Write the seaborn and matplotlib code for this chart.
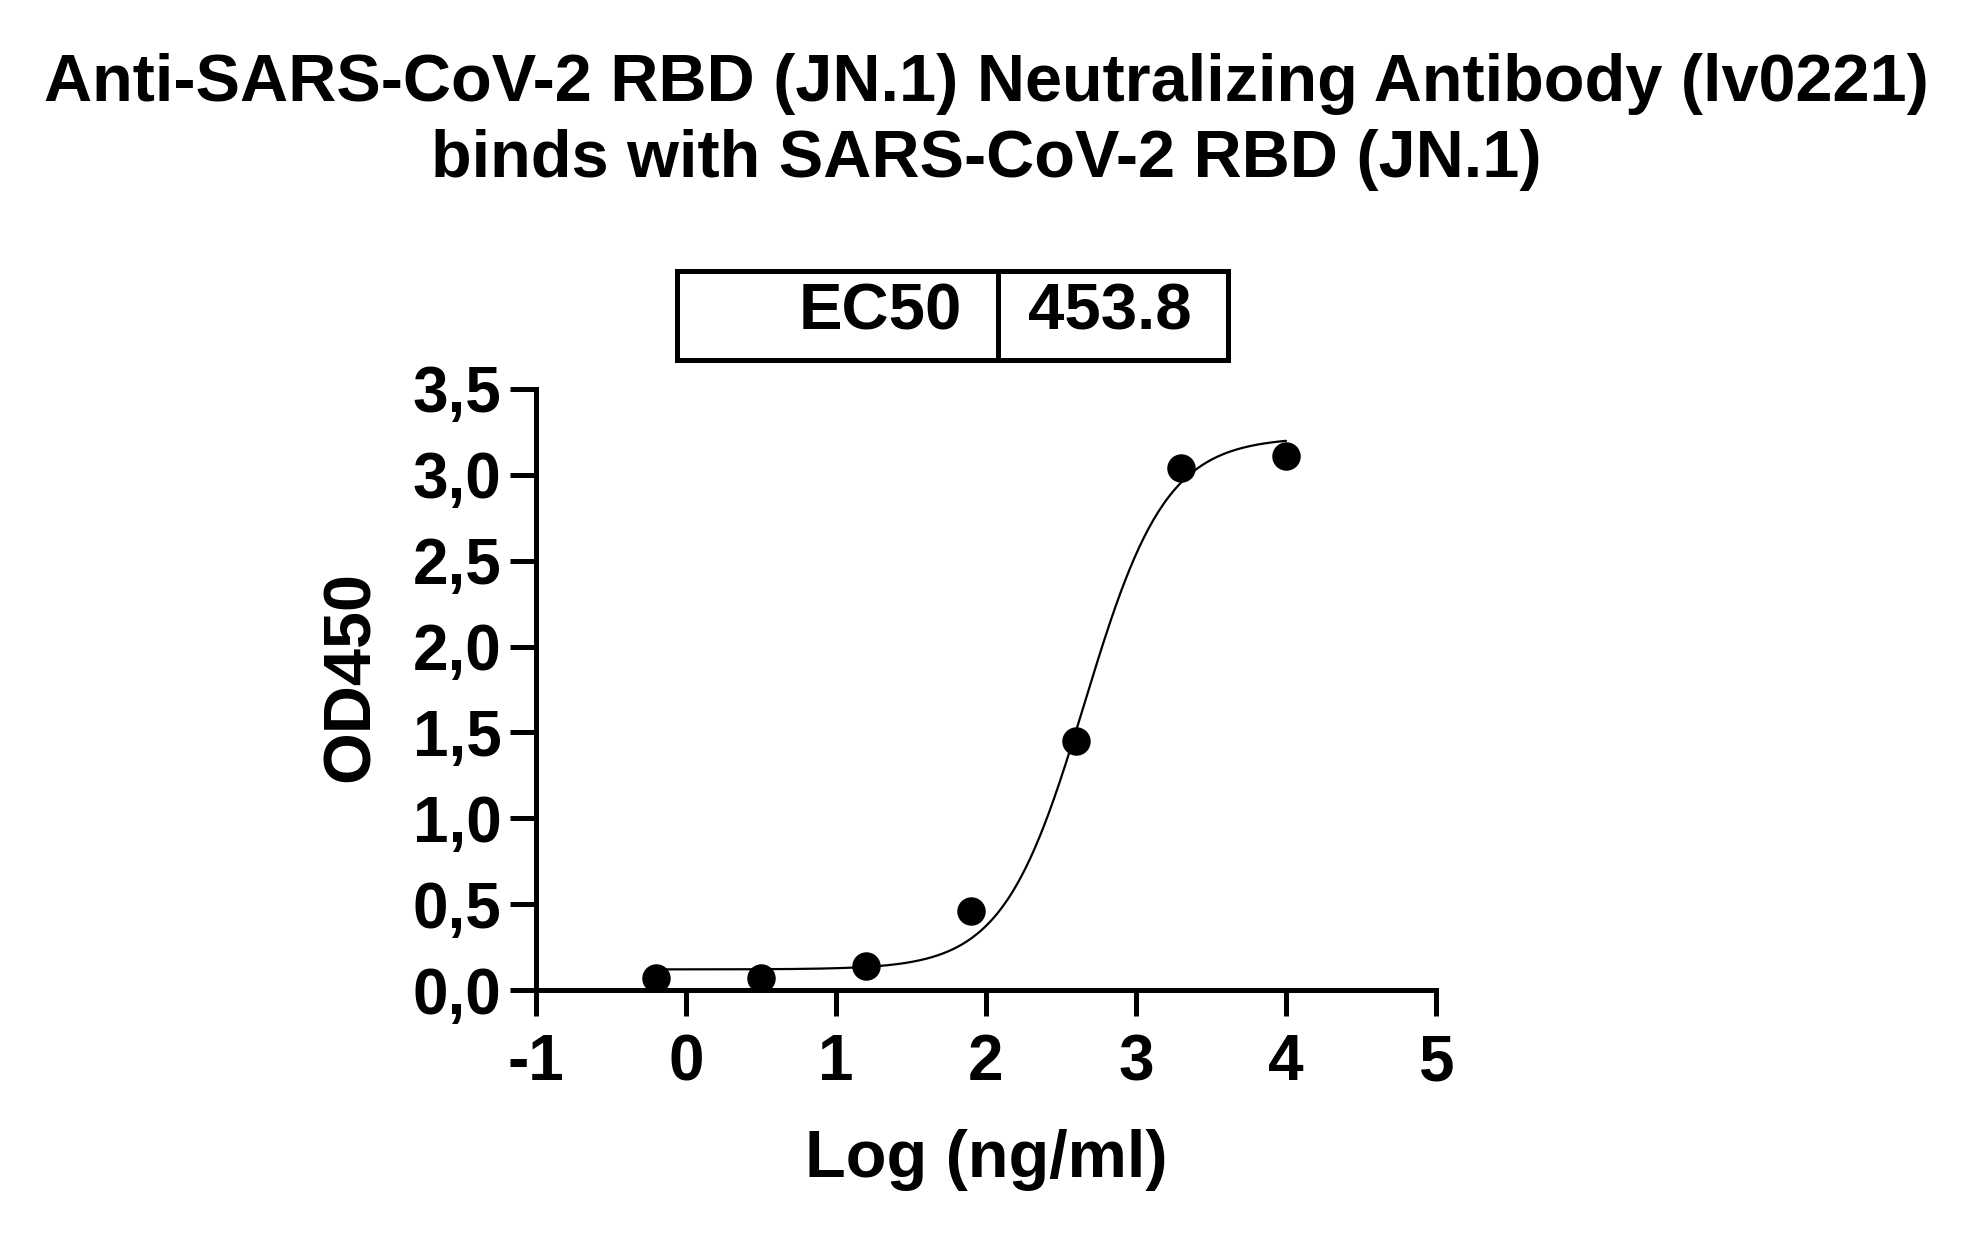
import numpy as np
import pandas as pd
import matplotlib
matplotlib.use("Agg")
import matplotlib.pyplot as plt
from matplotlib.patches import Rectangle
from matplotlib.lines import Line2D
import seaborn as sns

# ---- data ----
log_conc = [-0.2, 0.5, 1.2, 1.9, 2.6, 3.3, 4.0]
od450 = [0.07, 0.07, 0.14, 0.46, 1.45, 3.04, 3.11]
fit_bottom = 0.12
fit_top = 3.22
ec50 = 453.8
fit_hill = 1.6

x_ticks = [-1, 0, 1, 2, 3, 4, 5]
y_ticks = [0.0, 0.5, 1.0, 1.5, 2.0, 2.5, 3.0, 3.5]
y_tick_labels = ["0,0", "0,5", "1,0", "1,5", "2,0", "2,5", "3,0", "3,5"]

title = "Anti-SARS-CoV-2 RBD (JN.1) Neutralizing Antibody (lv0221)\nbinds with SARS-CoV-2 RBD (JN.1)"

sns.set_style("ticks")
plt.rcParams["font.family"] = ["Liberation Sans", "DejaVu Sans"]
plt.rcParams["font.weight"] = "bold"
for k in ["text.color", "axes.labelcolor", "xtick.color", "ytick.color", "axes.edgecolor"]:
    plt.rcParams[k] = "black"

W, H = 1972, 1237
AX_L, AX_R, AX_B, AX_T = 536, 1436, 990, 389
fig = plt.figure(figsize=(W / 100, H / 100), dpi=100, facecolor="white")
ax = fig.add_axes([AX_L / W, 1 - AX_B / H, (AX_R - AX_L) / W, (AX_B - AX_T) / H])
ax.set_facecolor("white")

df = pd.DataFrame({"x": log_conc, "y": od450})
xs = np.linspace(min(log_conc), max(log_conc), 400)
ys = fit_bottom + (fit_top - fit_bottom) / (1 + 10 ** ((np.log10(ec50) - xs) * fit_hill))
curve = pd.DataFrame({"x": xs, "y": ys})

sns.lineplot(data=curve, x="x", y="y", ax=ax, color="black", linewidth=1.6)
sns.scatterplot(data=df, x="x", y="y", ax=ax, color="black", s=420,
                edgecolor="black", linewidth=0, clip_on=False, zorder=5)

ax.set_xlim(-1, 5)
ax.set_ylim(0, 3.5)
ax.set_xticks(x_ticks)
ax.set_xticklabels([str(t) for t in x_ticks])
ax.set_yticks(y_ticks)
ax.set_yticklabels(y_tick_labels)
for s in ["top", "right"]:
    ax.spines[s].set_visible(False)
for s in ["left", "bottom"]:
    ax.spines[s].set_linewidth(3.6)
    ax.spines[s].set_color("black")
ax.tick_params(axis="both", length=19, width=3.6, color="black",
               labelcolor="black", labelsize=46)
ax.tick_params(axis="x", pad=12)
ax.tick_params(axis="y", pad=6)
for lab in ax.get_xticklabels() + ax.get_yticklabels():
    lab.set_fontweight("bold")

ax.set_xlabel("Log (ng/ml)", fontsize=48, fontweight="bold", labelpad=26)
ax.set_ylabel("OD450", fontsize=48, fontweight="bold")
ax.yaxis.set_label_coords((352 - AX_L) / (AX_R - AX_L), (AX_B - 676) / (AX_B - AX_T))
ax.yaxis.label.set_va("center")

fig.text(0.5, 1 - 122 / H, title, ha="center", va="center", fontsize=48,
         fontweight="bold", linespacing=1.3)

# EC50 table
x0, x1, xm = 677 / W, 1228 / W, 998 / W
y0, y1 = 1 - 360 / H, 1 - 271 / H
fig.add_artist(Rectangle((x0, y0), x1 - x0, y1 - y0, transform=fig.transFigure,
                         fill=False, edgecolor="black", linewidth=3.6))
fig.add_artist(Line2D([xm, xm], [y0, y1], transform=fig.transFigure,
                      color="black", linewidth=3.6))
fig.text(962 / W, 1 - 313 / H, "EC50", ha="right", va="center",
         fontsize=47, fontweight="bold")
fig.text(1028 / W, 1 - 313 / H, f"{ec50:.1f}", ha="left", va="center",
         fontsize=47, fontweight="bold")

fig.savefig("out.png", dpi=100, facecolor="white")
